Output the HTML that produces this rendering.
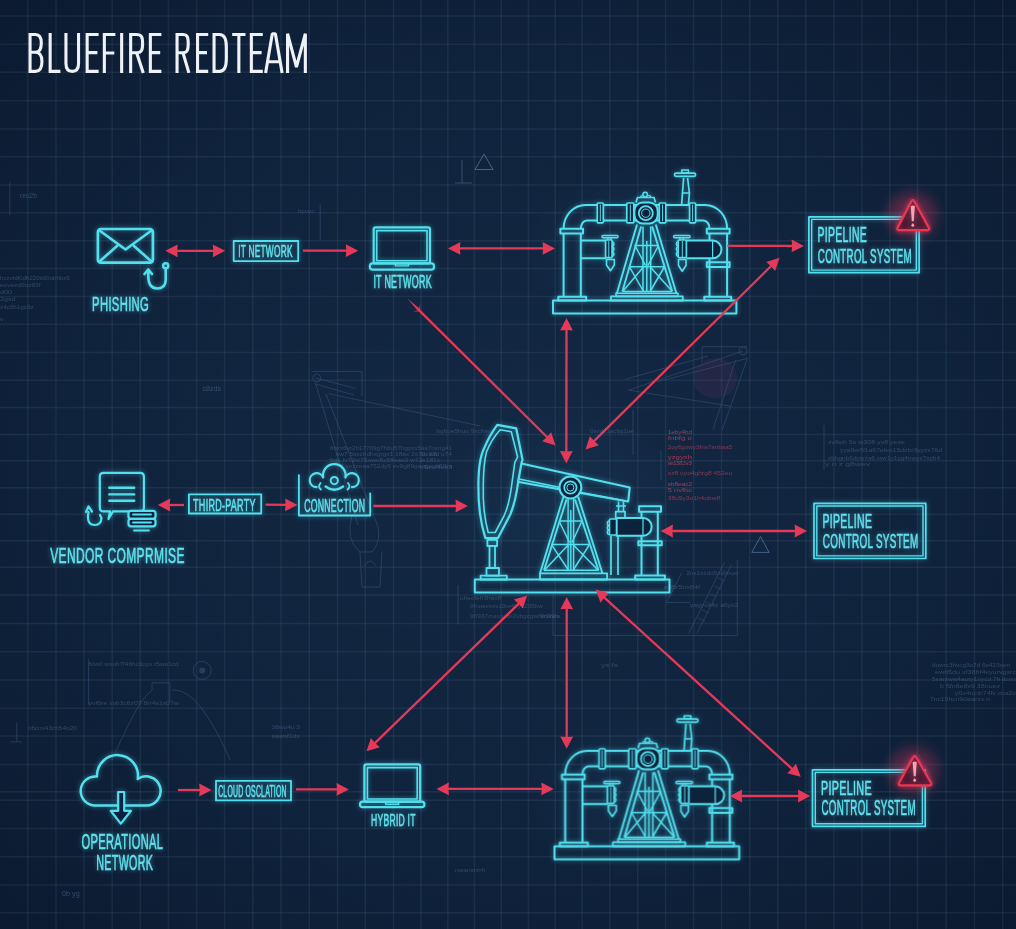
<!DOCTYPE html><html><head><meta charset="utf-8"><style>
html,body{margin:0;padding:0;background:#0f2140;}
#c{position:relative;width:1016px;height:929px;overflow:hidden;background:#10223f;}
svg{position:absolute;left:0;top:0;}
text{font-family:"Liberation Sans",sans-serif;}
</style></head><body><div id="c">
<svg width="1016" height="929" viewBox="0 0 1016 929">
<defs>
<radialGradient id="vig" cx="50%" cy="50%" r="75%">
<stop offset="0%" stop-color="#132843"/><stop offset="55%" stop-color="#10233d"/><stop offset="100%" stop-color="#0a192e"/>
</radialGradient>
<filter id="glow" x="-20%" y="-20%" width="140%" height="140%">
<feGaussianBlur in="SourceGraphic" stdDeviation="2.5" result="b"/><feComponentTransfer in="b" result="b2"><feFuncA type="linear" slope="0.5"/></feComponentTransfer>
<feMerge><feMergeNode in="b2"/><feMergeNode in="SourceGraphic"/></feMerge>
</filter>
<filter id="rglow" x="-100%" y="-100%" width="300%" height="300%">
<feGaussianBlur in="SourceGraphic" stdDeviation="2.5" result="b"/>
<feMerge><feMergeNode in="b"/><feMergeNode in="SourceGraphic"/></feMerge>
</filter>
<radialGradient id="cyglow"><stop offset="0%" stop-color="#2f86b8" stop-opacity="0.09"/><stop offset="70%" stop-color="#2f86b8" stop-opacity="0.035"/><stop offset="100%" stop-color="#2f86b8" stop-opacity="0"/></radialGradient>
<radialGradient id="redglow"><stop offset="0%" stop-color="#c9305a" stop-opacity="0.35"/><stop offset="100%" stop-color="#e5395a" stop-opacity="0"/></radialGradient>
</defs>
<rect width="1016" height="929" fill="url(#vig)"/>
<g stroke="#7090b4" stroke-opacity="0.12" stroke-width="1.5"><line x1="27.8" y1="0" x2="27.8" y2="929"/><line x1="56" y1="0" x2="56" y2="929"/><line x1="84" y1="0" x2="84" y2="929"/><line x1="112.2" y1="0" x2="112.2" y2="929"/><line x1="140.3" y1="0" x2="140.3" y2="929"/><line x1="168.4" y1="0" x2="168.4" y2="929"/><line x1="196.6" y1="0" x2="196.6" y2="929"/><line x1="224.6" y1="0" x2="224.6" y2="929"/><line x1="252.8" y1="0" x2="252.8" y2="929"/><line x1="281" y1="0" x2="281" y2="929"/><line x1="309.2" y1="0" x2="309.2" y2="929"/><line x1="337.5" y1="0" x2="337.5" y2="929"/><line x1="365.3" y1="0" x2="365.3" y2="929"/><line x1="393.5" y1="0" x2="393.5" y2="929"/><line x1="420.9" y1="0" x2="420.9" y2="929"/><line x1="447.8" y1="0" x2="447.8" y2="929"/><line x1="474.4" y1="0" x2="474.4" y2="929"/><line x1="501.2" y1="0" x2="501.2" y2="929"/><line x1="528.4" y1="0" x2="528.4" y2="929"/><line x1="555.3" y1="0" x2="555.3" y2="929"/><line x1="582.1" y1="0" x2="582.1" y2="929"/><line x1="609.7" y1="0" x2="609.7" y2="929"/><line x1="637.7" y1="0" x2="637.7" y2="929"/><line x1="665.6" y1="0" x2="665.6" y2="929"/><line x1="693.6" y1="0" x2="693.6" y2="929"/><line x1="721.5" y1="0" x2="721.5" y2="929"/><line x1="749.7" y1="0" x2="749.7" y2="929"/><line x1="777.7" y1="0" x2="777.7" y2="929"/><line x1="805.8" y1="0" x2="805.8" y2="929"/><line x1="833.9" y1="0" x2="833.9" y2="929"/><line x1="861.9" y1="0" x2="861.9" y2="929"/><line x1="889.7" y1="0" x2="889.7" y2="929"/><line x1="917.5" y1="0" x2="917.5" y2="929"/><line x1="946.1" y1="0" x2="946.1" y2="929"/><line x1="974.5" y1="0" x2="974.5" y2="929"/><line x1="1002.7" y1="0" x2="1002.7" y2="929"/><line x1="0" y1="16.1" x2="1016" y2="16.1"/><line x1="0" y1="44.3" x2="1016" y2="44.3"/><line x1="0" y1="72.3" x2="1016" y2="72.3"/><line x1="0" y1="100.8" x2="1016" y2="100.8"/><line x1="0" y1="128.9" x2="1016" y2="128.9"/><line x1="0" y1="156.7" x2="1016" y2="156.7"/><line x1="0" y1="185" x2="1016" y2="185"/><line x1="0" y1="212.8" x2="1016" y2="212.8"/><line x1="0" y1="240.7" x2="1016" y2="240.7"/><line x1="0" y1="268.5" x2="1016" y2="268.5"/><line x1="0" y1="296.4" x2="1016" y2="296.4"/><line x1="0" y1="324.2" x2="1016" y2="324.2"/><line x1="0" y1="352.4" x2="1016" y2="352.4"/><line x1="0" y1="380.2" x2="1016" y2="380.2"/><line x1="0" y1="407.5" x2="1016" y2="407.5"/><line x1="0" y1="434.4" x2="1016" y2="434.4"/><line x1="0" y1="460.8" x2="1016" y2="460.8"/><line x1="0" y1="487.7" x2="1016" y2="487.7"/><line x1="0" y1="514.2" x2="1016" y2="514.2"/><line x1="0" y1="540.8" x2="1016" y2="540.8"/><line x1="0" y1="567.3" x2="1016" y2="567.3"/><line x1="0" y1="595" x2="1016" y2="595"/><line x1="0" y1="623.5" x2="1016" y2="623.5"/><line x1="0" y1="651.8" x2="1016" y2="651.8"/><line x1="0" y1="680" x2="1016" y2="680"/><line x1="0" y1="708.2" x2="1016" y2="708.2"/><line x1="0" y1="736" x2="1016" y2="736"/><line x1="0" y1="764.4" x2="1016" y2="764.4"/><line x1="0" y1="791.7" x2="1016" y2="791.7"/><line x1="0" y1="800.2" x2="1016" y2="800.2"/><line x1="0" y1="828.6" x2="1016" y2="828.6"/><line x1="0" y1="856.8" x2="1016" y2="856.8"/><line x1="0" y1="885" x2="1016" y2="885"/><line x1="0" y1="912.7" x2="1016" y2="912.7"/></g>
<g stroke="#3a5a80" stroke-width="1" fill="none" opacity="0.5">
<path d="M311.6,371.6 L362,371.6 L362,396 M316.8,378 m-4,0 a4,4 0 1,0 8,0 a4,4 0 1,0 -8,0 M315.5,378 L355.5,388.4 M315.5,384 L354,395 M328.4,393.6 L480,425.9 M315.5,383 L358,525 M325.8,393.6 L377.5,525.3 M352,515 Q345,540 360,552 L372,552 Q382,540 377.5,525.3 M360,552 L362,587 L380,587 L382,552 M364,566 Q370,556 376,566"/>
<path d="M702,361.8 L702,346.7 L747.3,346.7 M743,351 m-4,0 a4,4 0 1,0 8,0 a4,4 0 1,0 -8,0 M743,351 L628.5,390.2 L730.6,406.1 M747.3,358.4 L656.9,381.9 M747.3,358.4 L722.2,430.4 M735.6,360 L713,429.6 M708,356 L625,379.4"/>
<path d="M553,593 L553,635.6 L737.3,635.6 L737.3,560 M724.3,562.4 L688.8,633.2 M731.4,564.7 L697.1,633.2 M681.7,573 L666.4,602.5 L690,602.5 M458,585 L458,624.5"/>
<path d="M722,570 L729,573 M718,578 L725,581 M714,586 L721,589 M710,594 L717,597 M706,602 L713,605 M702,610 L709,613 M698,618 L705,621" stroke-width="0.8"/>
<path d="M112,760 C130,720 140,700 152,690 L152,682.8 L169.8,682.8 L169.8,702 M172,690 C190,690 205,705 230.3,760 M202.2,670.4 m-9,0 a9,9 0 1,0 18,0 a9,9 0 1,0 -18,0 M88.6,659 L88.6,705 M16.8,722.7 L16.8,741.9 M10.3,741.9 L22.1,741.9 M9.8,182 L9.8,215 M320.2,204.4 L320.2,240 M633,410 L633,455 M824,425 L824,470 M661,451 L661,480"/>
</g>
<circle cx="202.2" cy="670.4" r="3" fill="#3a5a80" opacity="0.5"/>
<text x="20" y="198.4" font-size="8" textLength="17" lengthAdjust="spacingAndGlyphs" fill="#4b6b91" opacity="0.6" font-family="Liberation Mono">reu2b</text>
<text x="202.4" y="390.7" font-size="8" textLength="18.599999999999994" lengthAdjust="spacingAndGlyphs" fill="#4b6b91" opacity="0.6" font-family="Liberation Mono">c8zds</text>
<text x="62" y="896.1" font-size="8" textLength="17.700000000000003" lengthAdjust="spacingAndGlyphs" fill="#4b6b91" opacity="0.6" font-family="Liberation Mono">0b yg</text>
<text x="298" y="213" font-size="6.2" textLength="16.600000000000023" lengthAdjust="spacingAndGlyphs" fill="#4b6b91" opacity="0.5" font-family="Liberation Mono">bcvvc</text>
<text x="0" y="279.5" font-size="6.2" textLength="69.7" lengthAdjust="spacingAndGlyphs" fill="#4b6b91" opacity="0.55" font-family="Liberation Mono">hczvb80dh220b00ubhbz9</text>
<text x="0" y="286.5" font-size="6.2" textLength="40.5" lengthAdjust="spacingAndGlyphs" fill="#4b6b91" opacity="0.55" font-family="Liberation Mono">eovezd0oz83f</text>
<text x="0" y="294" font-size="6.2" textLength="12" lengthAdjust="spacingAndGlyphs" fill="#4b6b91" opacity="0.55" font-family="Liberation Mono">d00</text>
<text x="0" y="301" font-size="6.2" textLength="15.5" lengthAdjust="spacingAndGlyphs" fill="#4b6b91" opacity="0.55" font-family="Liberation Mono">2gsd</text>
<text x="0" y="309" font-size="6.2" textLength="33.6" lengthAdjust="spacingAndGlyphs" fill="#4b6b91" opacity="0.55" font-family="Liberation Mono">z4c0b1gx3z</text>
<text x="0" y="321" font-size="6.2" textLength="3.4" lengthAdjust="spacingAndGlyphs" fill="#4b6b91" opacity="0.55" font-family="Liberation Mono">v</text>
<text x="88.6" y="666" font-size="6.2" textLength="90.0" lengthAdjust="spacingAndGlyphs" fill="#4b6b91" opacity="0.55" font-family="Liberation Mono">6rw0 wsoh7f46hc0oyx r5wo1cd</text>
<text x="88.6" y="705" font-size="6.2" textLength="90.0" lengthAdjust="spacingAndGlyphs" fill="#4b6b91" opacity="0.55" font-family="Liberation Mono">yvf6re xvb3c6z07 8rr4s1x07w</text>
<text x="28" y="730" font-size="6.2" textLength="48.8" lengthAdjust="spacingAndGlyphs" fill="#4b6b91" opacity="0.55" font-family="Liberation Mono">c8cnx43cb54o20</text>
<text x="271.6" y="728.5" font-size="6.2" textLength="28.399999999999977" lengthAdjust="spacingAndGlyphs" fill="#4b6b91" opacity="0.55" font-family="Liberation Mono">38wo4u 3</text>
<text x="271.6" y="738" font-size="6.2" textLength="28.399999999999977" lengthAdjust="spacingAndGlyphs" fill="#4b6b91" opacity="0.55" font-family="Liberation Mono">sawsf1dx</text>
<text x="436.5" y="433" font-size="6.2" textLength="54.30000000000001" lengthAdjust="spacingAndGlyphs" fill="#4b6b91" opacity="0.55" font-family="Liberation Mono">bg6oe5huu 9xcfwu</text>
<text x="420" y="455.5" font-size="6.2" textLength="17" lengthAdjust="spacingAndGlyphs" fill="#4b6b91" opacity="0.55" font-family="Liberation Mono">zn e8</text>
<text x="420" y="468.5" font-size="6.2" textLength="32.5" lengthAdjust="spacingAndGlyphs" fill="#4b6b91" opacity="0.55" font-family="Liberation Mono">v9zn4vs3 </text>
<text x="460" y="600" font-size="6.2" textLength="41.39999999999998" lengthAdjust="spacingAndGlyphs" fill="#4b6b91" opacity="0.55" font-family="Liberation Mono">uhecfeh3hax8</text>
<text x="470" y="607.7" font-size="6.2" textLength="72.70000000000005" lengthAdjust="spacingAndGlyphs" fill="#4b6b91" opacity="0.55" font-family="Liberation Mono">0fnoaevzs10re49y1235bw</text>
<text x="470" y="617.7" font-size="6.2" textLength="90" lengthAdjust="spacingAndGlyphs" fill="#4b6b91" opacity="0.55" font-family="Liberation Mono"> 96937zuuuudx2ubgcgwfdr1bda</text>
<text x="590" y="433" font-size="6.2" textLength="43.5" lengthAdjust="spacingAndGlyphs" fill="#4b6b91" opacity="0.55" font-family="Liberation Mono">0ezds1ac9g1ue</text>
<text x="686.5" y="575" font-size="6.2" textLength="51.89999999999998" lengthAdjust="spacingAndGlyphs" fill="#4b6b91" opacity="0.55" font-family="Liberation Mono">2ns1sxdd9xwxxoc</text>
<text x="664" y="589" font-size="6.2" textLength="36" lengthAdjust="spacingAndGlyphs" fill="#4b6b91" opacity="0.55" font-family="Liberation Mono">ed5r5nx84f</text>
<text x="690" y="607" font-size="6.2" textLength="48.39999999999998" lengthAdjust="spacingAndGlyphs" fill="#4b6b91" opacity="0.55" font-family="Liberation Mono">yagyse4z a6yo2</text>
<text x="540" y="617.5" font-size="6.2" textLength="19" lengthAdjust="spacingAndGlyphs" fill="#4b6b91" opacity="0.55" font-family="Liberation Mono">9c49n</text>
<text x="601" y="667" font-size="6.2" textLength="17" lengthAdjust="spacingAndGlyphs" fill="#4b6b91" opacity="0.55" font-family="Liberation Mono">ys fs</text>
<text x="330" y="449.5" font-size="6.2" textLength="122" lengthAdjust="spacingAndGlyphs" fill="#4b6b91" opacity="0.55" font-family="Liberation Mono">6hzz6yr2h17769g7h8u57hgyxs5aa7nxng41</text>
<text x="336" y="456" font-size="6.2" textLength="116" lengthAdjust="spacingAndGlyphs" fill="#4b6b91" opacity="0.55" font-family="Liberation Mono">sw7 5sschdhxgrgx1 18ax 2s72c83d u74</text>
<text x="330" y="461.5" font-size="6.2" textLength="110" lengthAdjust="spacingAndGlyphs" fill="#4b6b91" opacity="0.55" font-family="Liberation Mono">6gx fv72rc75uwu5c5ffeae0 w72e181x</text>
<text x="340" y="468" font-size="6.2" textLength="112" lengthAdjust="spacingAndGlyphs" fill="#4b6b91" opacity="0.55" font-family="Liberation Mono">3 sezzeaa752dy5 ev9g89gangoyh60rn</text>
<text x="828" y="444" font-size="6.2" textLength="77" lengthAdjust="spacingAndGlyphs" fill="#4b6b91" opacity="0.55" font-family="Liberation Mono">zv8eb 5s w308 yv8  yeze</text>
<text x="840" y="452" font-size="6.2" textLength="102" lengthAdjust="spacingAndGlyphs" fill="#4b6b91" opacity="0.55" font-family="Liberation Mono">yya9w6f1a67efex15dzbr3yyzx76d </text>
<text x="828" y="460" font-size="6.2" textLength="112" lengthAdjust="spacingAndGlyphs" fill="#4b6b91" opacity="0.55" font-family="Liberation Mono">zbhgnb6dywza6  cwr1y1yg4nwyz7xyh4</text>
<text x="825" y="466" font-size="6.2" textLength="45" lengthAdjust="spacingAndGlyphs" fill="#4b6b91" opacity="0.55" font-family="Liberation Mono">y   n z g8wev</text>
<text x="932" y="667" font-size="6.2" textLength="78" lengthAdjust="spacingAndGlyphs" fill="#4b6b91" opacity="0.55" font-family="Liberation Mono">duwrc3hvcg3o7d 6e423sen</text>
<text x="935" y="674" font-size="6.2" textLength="81" lengthAdjust="spacingAndGlyphs" fill="#4b6b91" opacity="0.55" font-family="Liberation Mono"> ewh5du xf38hf4vyurvgsrc</text>
<text x="932" y="681" font-size="6.2" textLength="84" lengthAdjust="spacingAndGlyphs" fill="#4b6b91" opacity="0.55" font-family="Liberation Mono">5sarzww4aury1oycd 7h dcnn</text>
<text x="940" y="688" font-size="6.2" textLength="60" lengthAdjust="spacingAndGlyphs" fill="#4b6b91" opacity="0.55" font-family="Liberation Mono">b 6fn6e8v9 38nuez </text>
<text x="955" y="695" font-size="6.2" textLength="61" lengthAdjust="spacingAndGlyphs" fill="#4b6b91" opacity="0.55" font-family="Liberation Mono">y0x4rcnb74fv cna2c</text>
<text x="930" y="701" font-size="6.2" textLength="60" lengthAdjust="spacingAndGlyphs" fill="#4b6b91" opacity="0.55" font-family="Liberation Mono">7nc19hcn9dwarzv  n</text>
<text x="667.8" y="434" font-size="5.5" textLength="24.200000000000045" lengthAdjust="spacingAndGlyphs" fill="#d8405e" opacity="0.75" font-family="Liberation Mono">1eby4hd</text>
<text x="667.8" y="440" font-size="5.5" textLength="24.200000000000045" lengthAdjust="spacingAndGlyphs" fill="#d8405e" opacity="0.75" font-family="Liberation Mono">fnbfg o</text>
<text x="667.8" y="448.5" font-size="5.5" textLength="64.40000000000009" lengthAdjust="spacingAndGlyphs" fill="#d8405e" opacity="0.6" font-family="Liberation Mono">2oy6gowy3fns7anbaa5</text>
<text x="667.8" y="459" font-size="5.5" textLength="24.200000000000045" lengthAdjust="spacingAndGlyphs" fill="#d8405e" opacity="0.75" font-family="Liberation Mono">yzgyxh </text>
<text x="667.8" y="465" font-size="5.5" textLength="24.200000000000045" lengthAdjust="spacingAndGlyphs" fill="#d8405e" opacity="0.75" font-family="Liberation Mono">wd382v3</text>
<text x="667.8" y="474.5" font-size="5.5" textLength="64.40000000000009" lengthAdjust="spacingAndGlyphs" fill="#d8405e" opacity="0.6" font-family="Liberation Mono">xz8 uyo4ghrg8 452eu</text>
<text x="667.8" y="486" font-size="5.5" textLength="24.200000000000045" lengthAdjust="spacingAndGlyphs" fill="#d8405e" opacity="0.75" font-family="Liberation Mono">sb8eac2</text>
<text x="667.8" y="492" font-size="5.5" textLength="24.200000000000045" lengthAdjust="spacingAndGlyphs" fill="#d8405e" opacity="0.75" font-family="Liberation Mono">5 nvfbc</text>
<text x="667.8" y="500" font-size="5.5" textLength="52.200000000000045" lengthAdjust="spacingAndGlyphs" fill="#d8405e" opacity="0.6" font-family="Liberation Mono">38u9y3o1h4obwff</text>
<g fill="none" stroke="#5a7ea6" stroke-width="1" opacity="0.7"><path d="M484,154 L475,169.5 L493,169.5 Z"/><path d="M760.5,536.6 L751.8,552.4 L769.1,552.4 Z"/></g>
<path d="M462,160 L462,183 M455,183 L472,183" stroke="#4a6d93" stroke-width="1" opacity="0.6" fill="none"/>
<text x="455" y="872" font-size="6.2" textLength="30" lengthAdjust="spacingAndGlyphs" fill="#4b6b91" opacity="0.55" font-family="Liberation Mono">nwansrzrh</text>
<ellipse cx="645" cy="250" rx="120" ry="85" fill="url(#cyglow)"/>
<ellipse cx="647" cy="795" rx="120" ry="85" fill="url(#cyglow)"/>
<ellipse cx="570" cy="510" rx="125" ry="105" fill="url(#cyglow)"/>
<circle cx="913" cy="216" r="34" fill="url(#redglow)"/>
<circle cx="915" cy="771" r="34" fill="url(#redglow)"/>
<ellipse cx="715" cy="378" rx="22" ry="20" fill="#a03a70" opacity="0.12"/>
<g fill="none" stroke="#52e0ee" stroke-width="2.2" stroke-linejoin="round" stroke-linecap="round" filter="url(#glow)">
<rect x="97.9" y="229" width="55" height="33.7" rx="3" stroke-width="2.7"/>
<path d="M99.5,230.5 L125.5,249.5 L151.5,230.5 M99.5,261.5 L117,246 M151.5,261.5 L134,246" stroke-width="2.6"/>
<circle cx="165.7" cy="265.8" r="2.6" stroke-width="2.4"/><path d="M165.7,268.5 L165.7,280 Q165.7,288.5 157,288.5 Q148.3,288.5 148.3,276 L148.3,269.5 M144.5,274 L148.3,269.5 L152,274" stroke-width="2.6"/>
<rect x="233.7" y="241" width="64.5" height="20.1" stroke-width="1.8"/>
<rect x="373.7" y="227.3" width="56.30000000000001" height="36.099999999999966" rx="2"/><rect x="376.7" y="230.60000000000002" width="50.30000000000001" height="30.099999999999966" stroke-width="1.6"/><rect x="369.9" y="263.4" width="64.10000000000002" height="6.2000000000000455" rx="2.7"/><path d="M395.45,263.9 L395.45,265.9 L408.45,265.9 L408.45,263.9" stroke-width="1.4"/>
<rect x="364.4" y="764.3" width="55.80000000000001" height="37.40000000000009" rx="2"/><rect x="367.4" y="767.5999999999999" width="49.80000000000001" height="31.40000000000009" stroke-width="1.6"/><rect x="360" y="801.7" width="64.39999999999998" height="5.399999999999977" rx="2.7"/><path d="M385.7,802.2 L385.7,804.2 L398.7,804.2 L398.7,802.2" stroke-width="1.4"/>
<rect x="808.9" y="216.8" width="110.19999999999996" height="55.9" stroke-width="1.7"/><rect x="811.7" y="219.4" width="104.59999999999995" height="50.7" stroke-width="1.4"/>
<rect x="814.0" y="503.40000000000003" width="111.79999999999998" height="55.09999999999993" stroke-width="1.7"/><rect x="816.8000000000001" y="506.0" width="106.19999999999997" height="49.899999999999935" stroke-width="1.4"/>
<rect x="812.5" y="769.8" width="112.69999999999996" height="56.600000000000044" stroke-width="1.7"/><rect x="815.3000000000001" y="772.4" width="107.09999999999995" height="51.40000000000005" stroke-width="1.4"/>
<path d="M103.5,472.8 L140.2,472.8 Q143.9,472.8 143.9,476.5 L143.9,507.7 Q143.9,511.4 140.2,511.4 L113,511.4 L108.5,519 L110,511.4 L103.5,511.4 Q99.8,511.4 99.8,507.7 L99.8,476.5 Q99.8,472.8 103.5,472.8 Z"/>
<path d="M109.3,487.8 L134.2,487.8 M109.3,494.4 L134.2,494.4 M109.3,500.7 L134.2,500.7" stroke-width="2.4"/>
<rect x="128.5" y="510.8" width="27" height="8" rx="2.5" fill="#10223f"/><rect x="128.5" y="518.8" width="27" height="7.5" rx="2.5" fill="#10223f"/><path d="M133,514.5 L151,514.5 M133,522.5 L151,522.5 M134,530.5 L149,530.5" stroke-width="1.8"/>
<path d="M88.5,512 Q86,525 95,525 Q101,525 101.5,518 L100,515 M86,512 L88.5,506.5 L92,511.5" stroke-width="2.2"/>
<rect x="188.9" y="494.3" width="72.3" height="19.2" stroke-width="1.8"/>
<path d="M298.9,475.2 L298.9,515.5 L370.2,515.5 L370.2,493.4" stroke-width="1.8"/>
<path d="M323.2,477.5 A11.3,11.3 0 1,1 345.4,477.5 M345.4,477.5 A7,7 0 1,1 352,487.2 M316.6,487.2 A7,7 0 1,1 323.2,477.5 M325.5,486.5 Q334.3,493 343.2,486.5" stroke-width="2.2"/>
<circle cx="334.3" cy="480.6" r="3.6" stroke-width="2"/>
<path d="M320.5,483 Q317.5,487 321,489.5 M348,483 Q351,487 347.5,489.5" stroke-width="1.8"/>
<path d="M95.6,805.6 A14.6,14.6 0 1,1 97.0,776.5 A20.5,20.5 0 1,1 137.7,779.0 A14.6,14.6 0 1,1 146.0,805.6 Z" stroke-width="2.5"/>
<path d="M118.2,792 L124.2,792 L124.2,810.8 L131,810.8 L120.8,823.6 L110.7,810.8 L118.2,810.8 Z" fill="#10223f" stroke-width="2.2"/>
<rect x="216" y="780.8" width="75" height="19.6" stroke-width="1.8"/>
</g>
<g fill="none" stroke="#52e0ee" stroke-width="2" stroke-linejoin="round" filter="url(#glow)">
<g id="pumpA"><rect x="553" y="300.5" width="183.4" height="12.9"/><path d="M563.6,233.5 L563.6,296.8 M580.8,233.5 L580.8,296.8 M709.5,233.5 L709.5,296.8 M727.1,233.5 L727.1,296.8"/><rect x="560.4" y="228.7" width="22.6" height="4.8"/><rect x="558.3" y="296.8" width="27.8" height="3.7"/><rect x="706.8" y="228.7" width="22.8" height="4.8"/><rect x="706.8" y="262.3" width="22.8" height="4.8"/><rect x="704.3" y="296.8" width="26.9" height="3.7"/><path d="M563.6,228.7 A22,23.7 0 0,1 585.6,205 L705,205 A22.1,23.7 0 0,1 727.1,228.7 M580.8,228.7 A6,8.2 0 0,1 586.8,220.5 L703.5,220.5 A6,8.2 0 0,1 709.5,228.7"/><rect x="597.3" y="203" width="6.0" height="19.8" rx="1" fill="#10233d" stroke-width="1.7"/><path d="M600.3,204.5 L600.3,221.3" stroke-width="1"/><rect x="626.8" y="203" width="7.0" height="19.8" rx="1" fill="#10233d" stroke-width="1.7"/><path d="M630.3,204.5 L630.3,221.3" stroke-width="1"/><rect x="659.3" y="203" width="6.5" height="19.8" rx="1" fill="#10233d" stroke-width="1.7"/><path d="M662.55,204.5 L662.55,221.3" stroke-width="1"/><rect x="689.6" y="203" width="6.0" height="19.8" rx="1" fill="#10233d" stroke-width="1.7"/><path d="M692.6,204.5 L692.6,221.3" stroke-width="1"/><rect x="634.4" y="202.4" width="23.3" height="21.1" rx="8.5" fill="#10233d"/><circle cx="645.8" cy="213.2" r="7" stroke-width="1.8"/><circle cx="645.8" cy="213.2" r="4.2" stroke-width="1"/><path d="M636,202.4 L637.5,197.5 L654,197.5 L655.5,202.4" stroke-width="1.7"/><circle cx="645.2" cy="194.6" r="2.3" stroke-width="1.5"/><path d="M640.5,197.5 Q641,195 643,196 M647.5,196 Q650,194.5 651,197.5" stroke-width="1.2"/><path d="M681.6,205 L682.5,193 L683.6,178 M688.4,205 L689.4,193 L687.6,178 M682.5,193 L689.4,193" stroke-width="1.7"/><rect x="674.5" y="173.1" width="21.1" height="3.3" rx="1.6" stroke-width="1.7"/><rect x="681.8" y="170" width="6.6" height="3.1" stroke-width="1.5"/><path d="M637,224.6 L616.9,293.2 M655.8,224.6 L676.4,293.2 M641.1,226.4 L622.4,291.4 M652.1,226.4 L672.2,291.4" stroke-width="1.9"/><path d="M643,226.4 L643,291.4 M650.7,226.4 L650.7,291.4 M646.8,241 L646.8,291.4" stroke-width="1.5"/><path d="M634.3,245.6 L659,245.6 M629.2,266.7 L664.5,266.7 M622.4,291.4 L672.2,291.4 M635.5,246.5 L645.5,265.5 M658,246.5 L648,265.5 M629.8,267.5 L643,290.5 M643,267.5 L623.5,290.5 M650.7,267.5 L671.5,290.5 M664,267.5 L650.7,290.5" stroke-width="1.5"/><rect x="616" y="293.2" width="62" height="3.2" stroke-width="1.6"/><rect x="611" y="296.4" width="71.8" height="4.1" stroke-width="1.8"/><path d="M580.8,240.6 L606,240.6 M580.8,258.3 L606,258.3"/><rect x="602" y="235.6" width="16" height="2.1" rx="1" stroke-width="1.5"/><path d="M608,237.7 L608,240 M611,237.7 L611,240" stroke-width="1.3"/><rect x="605.6" y="240" width="6.5" height="17.7" rx="1.2" fill="#10233d" stroke-width="1.7"/><path d="M608.8,241 L608.8,257" stroke-width="1"/><path d="M612.1,241.5 A2.6,2.6 0 0,1 612.1,246.5 A2.6,2.6 0 0,1 612.1,251.5 A2.6,2.6 0 0,1 612.1,256.5" stroke-width="1.5"/><path d="M606.5,259.5 L614.3,259.5 L614.3,265 L610.4,270.7 L606.5,265 Z" stroke-width="1.6"/><path d="M686.4,240.6 L712.6,240.6 A8.85,8.85 0 0,1 712.6,258.3 L686.4,258.3" fill="#10233d"/><path d="M712.6,241 L712.6,258" stroke-width="1.2"/><rect x="673.6" y="235.6" width="16.4" height="2.1" rx="1" stroke-width="1.5"/><path d="M680,237.7 L680,240 M683,237.7 L683,240" stroke-width="1.3"/><rect x="678.2" y="240" width="8.2" height="17.7" rx="1.2" fill="#10233d" stroke-width="1.7"/><path d="M682.3,241 L682.3,257" stroke-width="1"/><path d="M678.2,241.5 A2.6,2.6 0 0,0 678.2,246.5 A2.6,2.6 0 0,0 678.2,251.5 A2.6,2.6 0 0,0 678.2,256.5" stroke-width="1.5"/><path d="M678.5,259.5 L686,259.5 L686,265.5 L682.2,271.2 L678.5,265.5 Z" stroke-width="1.6"/></g>
<use href="#pumpA" transform="translate(554.5,545.8) scale(1.007,1) translate(-553,0)"/>
<rect x="474.8" y="579.5" width="194.7" height="13"/><path d="M497.3,424.8 L516.2,428.3 L522.5,459.8 L521.5,463 L518.3,480.8 Q516,500 510.5,514 L498,538.1 L485.4,538.1 Q478,515 478.4,485 Q478.5,460 484,448.6 Q489,436 497.3,424.8 Z" stroke-width="2.2"/><path d="M500.1,429.7 L511.3,431.8 L517.6,457 L514.8,462.6 L511.3,487.8 Q509,505 504,516 L495.2,532.5 L488.2,532.5 Q482.5,512 483.3,485 Q483.5,463 486.5,452 Q491,440 500.1,429.7 Z" stroke-width="1.6"/><path d="M487.4,539.9 L497.1,539.9 L497.1,546 L487.4,546 Z M489.5,546 L489.5,568 M495,546 L495,568" stroke-width="1.8"/><rect x="486.5" y="568" width="12.5" height="7.7" stroke-width="1.8"/><rect x="480.6" y="575.7" width="26.2" height="3.8" stroke-width="1.8"/><path d="M521.3,463.4 L629.7,487.5 L628.2,501.5 L517.4,481.8" stroke-width="2.1"/><path d="M519,479 L560,487.5 M581,492.5 L626,501" stroke-width="1.3"/><circle cx="570.4" cy="487.5" r="10.9" fill="#10233d"/><circle cx="570.4" cy="487.5" r="6.2" stroke-width="1.8"/><circle cx="570.4" cy="487.5" r="3.5" stroke-width="1"/><path d="M563.4,496.8 L540,573.3 M578.2,496.8 L602.4,573.3 M566.5,499.5 L544,570.2 M575,499.5 L598.5,570.2" stroke-width="1.9"/><path d="M568.1,498.5 L568.1,570.2 M573.6,498.5 L573.6,570.2 M570.8,510 L570.8,570.2" stroke-width="1.4"/><path d="M559,521 L582,521 M551.5,544.4 L589.5,544.4 M544,570.2 L598.5,570.2 M559.5,522 L569.5,542.5 M581.5,522 L572,542.5 M552,545.3 L568,569.5 M568,545.3 L545,569.5 M573.6,545.3 L597.5,569.5 M589,545.3 L573.6,569.5" stroke-width="1.5"/><rect x="540" y="573.3" width="67.1" height="6.2" stroke-width="1.8"/><path d="M641.5,511.7 L641.5,575.6 M657.8,511.7 L657.8,575.6"/><rect x="639.1" y="506.2" width="21.9" height="5.5"/><rect x="638.4" y="541.3" width="23.3" height="3.9"/><rect x="635.2" y="575.6" width="29.7" height="3.9"/><path d="M618.5,501.5 L618.5,511 M623.5,501.5 L623.5,511 M616,506 L626,506" stroke-width="1.6"/><rect x="615.7" y="511.7" width="9.3" height="6.2" stroke-width="1.7"/><path d="M616.5,517.9 L643,517.9 A8.6,8.9 0 0,1 643,535.8 L616.5,535.8 Z" fill="#10233d"/><path d="M643,518.5 L643,535" stroke-width="1.2"/><rect x="609.5" y="519" width="7" height="16" rx="1" fill="#10233d" stroke-width="1.6"/><path d="M609.5,521 A2.2,2.2 0 0,0 609.5,525.5 A2.2,2.2 0 0,0 609.5,530 A2.2,2.2 0 0,0 609.5,534.5" stroke-width="1.3"/><path d="M611,536 L611,574.9 M618,536 L618,574.9" stroke-width="1.7"/>
</g>
<ellipse cx="910.8" cy="214.45" rx="30" ry="26" fill="url(#redglow)"/>
<g filter="url(#rglow)"><path d="M911.32,201.53 Q912.80,198.70 914.35,201.50 L928.65,227.40 Q930.20,230.20 927.00,230.20 L899.50,230.20 Q896.30,230.20 897.78,227.37 Z" fill="#4a1834" fill-opacity="0.8" stroke="#ec3553" stroke-width="2.2" stroke-linejoin="round"/><path d="M910.6999999999999,206.2 Q912.8,204.7 914.9,206.2 L913.8,221.2 L911.8,221.2 Z" fill="#ff9fb0"/><path d="M912.8,223.0 L914.5,225.39999999999998 Q912.8,228.0 911.0999999999999,225.39999999999998 Z" fill="#ff9fb0"/></g>
<ellipse cx="912.7" cy="770.0" rx="30" ry="26" fill="url(#redglow)"/>
<g filter="url(#rglow)"><path d="M913.15,757.50 Q914.70,754.70 916.30,757.47 L930.80,782.53 Q932.40,785.30 929.20,785.30 L900.90,785.30 Q897.70,785.30 899.25,782.50 Z" fill="#4a1834" fill-opacity="0.8" stroke="#ec3553" stroke-width="2.2" stroke-linejoin="round"/><path d="M912.6,762.2 Q914.7,760.7 916.8000000000001,762.2 L915.7,776.3 L913.7,776.3 Z" fill="#ff9fb0"/><path d="M914.7,778.0999999999999 L916.4000000000001,780.5 Q914.7,783.0999999999999 913.0,780.5 Z" fill="#ff9fb0"/></g>
<g>
<line x1="175.2" y1="250.8" x2="215.3" y2="250.8" stroke="#e5395a" stroke-width="2.3"/><path d="M225.2,250.8 L212.8,257.2 L213.3,250.8 L212.8,244.4 Z" fill="#e5395a"/><path d="M165.3,250.8 L177.7,257.2 L177.2,250.8 L177.7,244.4 Z" fill="#e5395a"/>
<line x1="303.0" y1="250.7" x2="348.3" y2="250.7" stroke="#e5395a" stroke-width="2.3"/><path d="M358.2,250.7 L345.8,257.1 L346.3,250.7 L345.8,244.3 Z" fill="#e5395a"/>
<line x1="457.9" y1="248.4" x2="545.1" y2="248.4" stroke="#e5395a" stroke-width="2.3"/><path d="M555.0,248.4 L542.6,254.8 L543.1,248.4 L542.6,242.0 Z" fill="#e5395a"/><path d="M448.0,248.4 L460.4,254.8 L459.9,248.4 L460.4,242.0 Z" fill="#e5395a"/>
<line x1="727.3" y1="245.8" x2="794.1" y2="245.9" stroke="#e5395a" stroke-width="2.3"/><path d="M804.0,245.9 L791.6,252.3 L792.1,245.9 L791.6,239.5 Z" fill="#e5395a"/>
<line x1="417.7" y1="308.9" x2="548.5" y2="438.5" stroke="#e5395a" stroke-width="2.3"/><path d="M555.5,445.5 L542.2,441.3 L547.0,437.1 L551.2,432.2 Z" fill="#e5395a"/><path d="M407.1,298.3 L417.2,310.1 L419.0,308.3 Z" fill="#e5395a"/><path d="M413.2,311.4 L420.2,311.3 L420.2,304.3 L418.8,309.9 Z" fill="#e5395a"/>
<line x1="772.4" y1="264.8" x2="592.7" y2="442.4" stroke="#e5395a" stroke-width="2.3"/><path d="M585.6,449.4 L589.9,436.1 L594.1,441.0 L598.9,445.2 Z" fill="#e5395a"/><path d="M779.5,257.8 L766.2,262.0 L771.0,266.2 L775.2,271.1 Z" fill="#e5395a"/>
<line x1="566.5" y1="327.9" x2="566.3" y2="453.6" stroke="#e5395a" stroke-width="2.3"/><path d="M566.3,463.5 L559.9,451.1 L566.3,451.6 L572.7,451.1 Z" fill="#e5395a"/><path d="M566.5,318.0 L560.1,330.4 L566.5,329.9 L572.9,330.4 Z" fill="#e5395a"/>
<line x1="184.0" y1="505.0" x2="167.7" y2="505.0" stroke="#e5395a" stroke-width="2.3"/><path d="M157.8,505.0 L170.2,498.6 L169.7,505.0 L170.2,511.4 Z" fill="#e5395a"/>
<line x1="265.6" y1="504.6" x2="287.6" y2="504.8" stroke="#e5395a" stroke-width="2.3"/><path d="M297.5,504.9 L285.0,511.2 L285.6,504.8 L285.2,498.4 Z" fill="#e5395a"/>
<line x1="373.4" y1="506.0" x2="458.0" y2="506.0" stroke="#e5395a" stroke-width="2.3"/><path d="M467.9,506.0 L455.5,512.4 L456.0,506.0 L455.5,499.6 Z" fill="#e5395a"/>
<line x1="670.4" y1="531.0" x2="797.1" y2="531.0" stroke="#e5395a" stroke-width="2.3"/><path d="M807.0,531.0 L794.6,537.4 L795.1,531.0 L794.6,524.6 Z" fill="#e5395a"/><path d="M660.5,531.0 L672.9,537.4 L672.4,531.0 L672.9,524.6 Z" fill="#e5395a"/>
<line x1="520.1" y1="602.3" x2="373.6" y2="744.3" stroke="#e5395a" stroke-width="2.3"/><path d="M366.5,751.2 L370.9,738.0 L375.0,742.9 L379.9,747.2 Z" fill="#e5395a"/><path d="M527.2,595.4 L513.8,599.4 L518.7,603.7 L522.8,608.6 Z" fill="#e5395a"/>
<line x1="566.7" y1="606.8" x2="566.7" y2="738.9" stroke="#e5395a" stroke-width="2.3"/><path d="M566.7,748.8 L560.3,736.4 L566.7,736.9 L573.1,736.4 Z" fill="#e5395a"/><path d="M566.7,596.9 L560.3,609.3 L566.7,608.8 L573.1,609.3 Z" fill="#e5395a"/>
<line x1="603.0" y1="596.3" x2="793.4" y2="770.1" stroke="#e5395a" stroke-width="2.3"/><path d="M800.7,776.8 L787.2,773.2 L791.9,768.8 L795.9,763.7 Z" fill="#e5395a"/><path d="M595.7,589.6 L600.5,602.7 L604.5,597.6 L609.2,593.2 Z" fill="#e5395a"/>
<line x1="178.0" y1="790.0" x2="201.7" y2="790.0" stroke="#e5395a" stroke-width="2.3"/><path d="M211.6,790.0 L199.2,796.4 L199.7,790.0 L199.2,783.6 Z" fill="#e5395a"/>
<line x1="296.0" y1="789.4" x2="339.0" y2="789.4" stroke="#e5395a" stroke-width="2.3"/><path d="M348.9,789.4 L336.5,795.8 L337.0,789.4 L336.5,783.0 Z" fill="#e5395a"/>
<line x1="446.4" y1="788.9" x2="543.8" y2="788.9" stroke="#e5395a" stroke-width="2.3"/><path d="M553.7,788.9 L541.3,795.3 L541.8,788.9 L541.3,782.5 Z" fill="#e5395a"/><path d="M436.5,788.9 L448.9,795.3 L448.4,788.9 L448.9,782.5 Z" fill="#e5395a"/>
<line x1="739.7" y1="796.0" x2="800.4" y2="796.0" stroke="#e5395a" stroke-width="2.3"/><path d="M810.3,796.0 L797.9,802.4 L798.4,796.0 L797.9,789.6 Z" fill="#e5395a"/><path d="M729.8,796.0 L742.2,802.4 L741.7,796.0 L742.2,789.6 Z" fill="#e5395a"/>
</g>
<g filter="url(#glow)">
<text transform="translate(92.08,311.00) scale(0.5452,1)" x="0" y="0" font-size="20.64" letter-spacing="0.62" fill="#60e2ee" font-weight="normal" stroke="#60e2ee" stroke-width="0.55" >PHISHING</text>
<text transform="translate(238.23,256.80) scale(0.5064,1)" x="0" y="0" font-size="16.42" letter-spacing="0.49" fill="#60e2ee" font-weight="normal" stroke="#60e2ee" stroke-width="0.55" >IT NETWORK</text>
<text transform="translate(373.38,287.80) scale(0.4951,1)" x="0" y="0" font-size="18.02" letter-spacing="0.54" fill="#60e2ee" font-weight="normal" stroke="#60e2ee" stroke-width="0.55" >IT NETWORK</text>
<text transform="translate(817.44,241.70) scale(0.4908,1)" x="0" y="0" font-size="21.37" letter-spacing="0.64" fill="#60e2ee" font-weight="normal" stroke="#60e2ee" stroke-width="0.55" >PIPELINE</text>
<text transform="translate(817.80,262.80) scale(0.4725,1)" x="0" y="0" font-size="20.64" letter-spacing="0.62" fill="#60e2ee" font-weight="normal" stroke="#60e2ee" stroke-width="0.55" >CONTROL SYSTEM</text>
<text transform="translate(50.15,563.00) scale(0.5671,1)" x="0" y="0" font-size="21.22" letter-spacing="0.64" fill="#60e2ee" font-weight="normal" stroke="#60e2ee" stroke-width="0.55" >VENDOR COMPRMISE</text>
<text transform="translate(193.10,510.50) scale(0.5256,1)" x="0" y="0" font-size="17.15" letter-spacing="0.51" fill="#60e2ee" font-weight="normal" stroke="#60e2ee" stroke-width="0.55" >THIRD-PARTY</text>
<text transform="translate(304.16,511.60) scale(0.4998,1)" x="0" y="0" font-size="17.44" letter-spacing="0.52" fill="#60e2ee" font-weight="normal" stroke="#60e2ee" stroke-width="0.55" >CONNECTION</text>
<text transform="translate(822.44,527.80) scale(0.5091,1)" x="0" y="0" font-size="20.64" letter-spacing="0.62" fill="#60e2ee" font-weight="normal" stroke="#60e2ee" stroke-width="0.55" >PIPELINE</text>
<text transform="translate(822.80,548.30) scale(0.4768,1)" x="0" y="0" font-size="20.79" letter-spacing="0.62" fill="#60e2ee" font-weight="normal" stroke="#60e2ee" stroke-width="0.55" >CONTROL SYSTEM</text>
<text transform="translate(81.47,848.50) scale(0.5058,1)" x="0" y="0" font-size="21.95" letter-spacing="0.66" fill="#60e2ee" font-weight="normal" stroke="#60e2ee" stroke-width="0.55" >OPERATIONAL</text>
<text transform="translate(96.22,869.60) scale(0.4891,1)" x="0" y="0" font-size="21.95" letter-spacing="0.66" fill="#60e2ee" font-weight="normal" stroke="#60e2ee" stroke-width="0.55" >NETWORK</text>
<text transform="translate(218.15,796.80) scale(0.4033,1)" x="0" y="0" font-size="17.15" letter-spacing="0.51" fill="#60e2ee" font-weight="normal" stroke="#60e2ee" stroke-width="0.55" >CLOUD OSCLATION</text>
<text transform="translate(371.10,826.30) scale(0.4993,1)" x="0" y="0" font-size="17.15" letter-spacing="0.51" fill="#60e2ee" font-weight="normal" stroke="#60e2ee" stroke-width="0.55" >HYBRID IT</text>
<text transform="translate(821.02,794.80) scale(0.5518,1)" x="0" y="0" font-size="19.48" letter-spacing="0.58" fill="#60e2ee" font-weight="normal" stroke="#60e2ee" stroke-width="0.55" >PIPELINE</text>
<text transform="translate(821.40,814.70) scale(0.4371,1)" x="0" y="0" font-size="22.38" letter-spacing="0.67" fill="#60e2ee" font-weight="normal" stroke="#60e2ee" stroke-width="0.55" >CONTROL SYSTEM</text>
</g>
<path d="M30.05,72.9 L30.05,34.449999999999996 L35.5,34.449999999999996 C40,34.449999999999996 41.3,37.5 41.3,43 C41.3,48.5 39.5,52.2 35.5,52.2 L30.05,52.2 M35.5,52.2 C40.5,52.2 41.95,56 41.95,61.5 C41.95,67.5 40.5,71.35000000000001 35.5,71.35000000000001 L28.5,71.35000000000001M50.15,32.9 L50.15,71.35000000000001 L60.4,71.35000000000001M65.95,32.9 L65.95,63.5 C65.95,69.5 68.5,71.35000000000001 72.25,71.35000000000001 C76,71.35000000000001 78.55,69.5 78.55,63.5 L78.55,32.9M98.6,34.449999999999996 L87.14999999999999,34.449999999999996 L87.14999999999999,71.35000000000001 L98.6,71.35000000000001 M87.14999999999999,52.6 L97.39999999999999,52.6M115.4,34.449999999999996 L104.35,34.449999999999996 L104.35,72.9 M104.35,53 L114.3,53M121.65,32.9 L121.65,72.9M130.65,72.9 L130.65,34.449999999999996 L136.1,34.449999999999996 C142.1,34.449999999999996 142.6,37.449999999999996 142.6,43.449999999999996 C142.6,49.449999999999996 142.1,52.8 136.1,52.8 L130.65,52.8 M136.6,52.8 L143.29999999999998,72.9M161.4,34.449999999999996 L150.35000000000002,34.449999999999996 L150.35000000000002,71.35000000000001 L161.4,71.35000000000001 M150.35000000000002,52.6 L160.20000000000002,52.6M177.05,72.9 L177.05,34.449999999999996 L182.5,34.449999999999996 C187.7,34.449999999999996 188.2,37.449999999999996 188.2,43.449999999999996 C188.2,49.449999999999996 187.7,52.8 182.5,52.8 L177.05,52.8 M183.0,52.8 L188.89999999999998,72.9M208.2,34.449999999999996 L197.55,34.449999999999996 L197.55,71.35000000000001 L208.2,71.35000000000001 M197.55,52.6 L207.0,52.6M214.05,34.449999999999996 L219.5,34.449999999999996 C224.5,34.449999999999996 226.35,39.5 226.35,47 L226.35,59 C226.35,66.5 224.5,71.35000000000001 219.5,71.35000000000001 L214.05,71.35000000000001 ZM232.2,34.449999999999996 L245.5,34.449999999999996 M238.85,34.449999999999996 L238.85,72.9M262.8,34.449999999999996 L251.35000000000002,34.449999999999996 L251.35000000000002,71.35000000000001 L262.8,71.35000000000001 M251.35000000000002,52.6 L261.6,52.6" fill="none" stroke="#eef2f7" stroke-width="3.1" stroke-linejoin="miter" stroke-miterlimit="3"/>
<path d="M265.6,72.9 L272.3,33.699999999999996 L275.4,33.699999999999996 L282.1,72.9 M267.8,61.8 L279.9,61.8M287.55,72.9 L287.55,33.699999999999996 L296.45,67 L305.35,33.699999999999996 L305.35,72.9" fill="none" stroke="#eef2f7" stroke-width="3.1" stroke-linejoin="bevel"/>
</svg></div></body></html>
